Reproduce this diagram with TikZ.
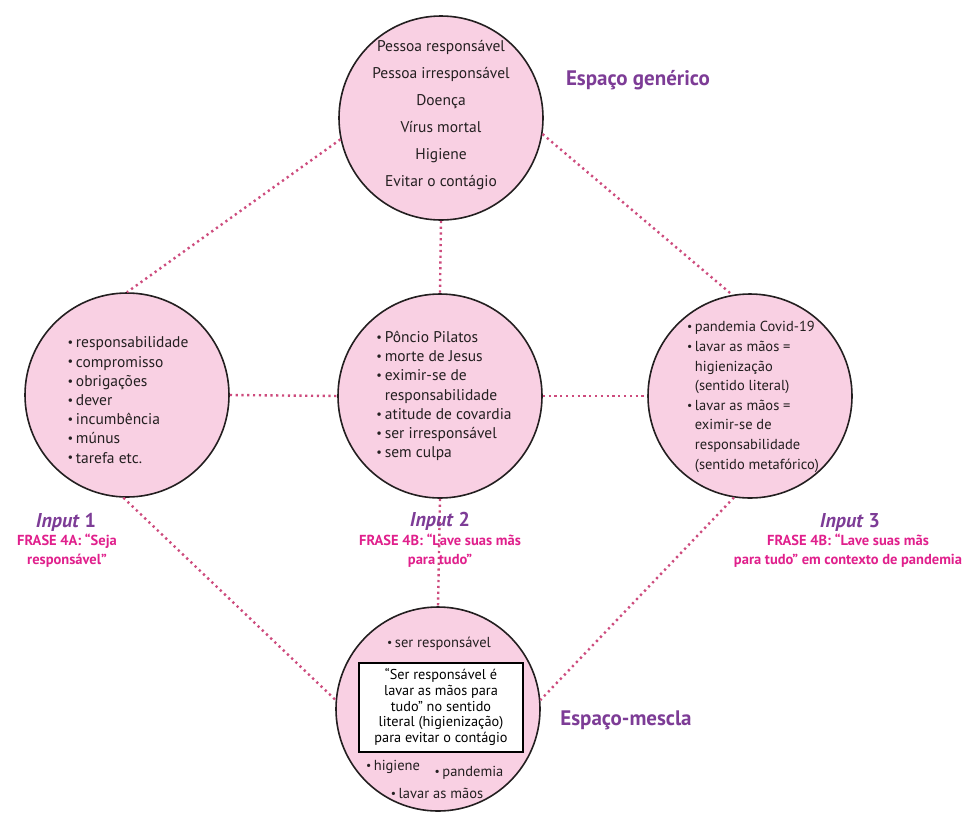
\documentclass[tikz,border=0pt]{standalone}
\usepackage{fontspec}
\usepackage{graphicx}
\setmainfont{PT Sans}
\definecolor{circfill}{RGB}{249,208,227}
\definecolor{circline}{RGB}{35,31,32}
\definecolor{dotcol}{RGB}{205,75,125}
\definecolor{purp}{RGB}{125,60,150}
\definecolor{mag}{RGB}{224,32,140}
\newcommand{\bu}{\raisebox{0.15ex}{\scalebox{0.8}{•}}\hspace{0.18em}}
\begin{document}
\begin{tikzpicture}[x=1pt,y=-1pt,
  circ/.style={circle, draw=circline, fill=circfill, line width=1.6pt, minimum size=204pt, inner sep=0pt},
  link/.style={draw=dotcol, line width=2.4pt, dash pattern=on 2.2pt off 3.6pt},
  txt/.style={inner sep=0pt, text=circline},
  list/.style={txt, align=left, font=\fontsize{15.5}{19.2}\selectfont},
  title/.style={inner sep=0pt, text=purp, font=\fontsize{21}{23}\selectfont\bfseries},
  inlab/.style={inner sep=0pt, text=purp, font=\fontsize{20}{22}\selectfont\bfseries},
  frase/.style={inner sep=0pt, text=mag, align=center, font=\fontsize{14.5}{19}\selectfont\bfseries},
  quotebox/.style={draw=black, line width=2pt, fill=white, minimum width=164pt, minimum height=89pt, inner sep=0pt, align=center, font=\fontsize{14.3}{15.8}\selectfont}
]
\useasboundingbox (0,0) rectangle (963,812);

% circles
\node[circ] (G) at (441,118) {};
\node[circ] (L) at (127,395) {};
\node[circ] (M) at (440,396) {};
\node[circ] (R) at (750,396) {};
\node[circ] (B) at (438,709) {};

% connectors
\draw[link] (G.192) -- (L.90);
\draw[link] (G.351) -- (R.100);
\draw[link] (G.270) -- (M.90);
\draw[link] (L.0) -- (M.180);
\draw[link] (M.0) -- (R.180);
\draw[link] (L.268) -- (B.175);
\draw[link] (M.270) -- (B.90);
\draw[link] (R.261) -- (B.5);

% texts in circles
\node[txt, align=center, font=\fontsize{15.5}{27}\selectfont] (tG) at (441,115)
  {Pessoa responsável\\Pessoa irresponsável\\Doença\\Vírus mortal\\Higiene\\Evitar o contágio};
\node[list] (tL) at (128,400)
  {\bu responsabilidade\\\bu compromisso\\\bu obrigações\\\bu dever\\\bu incumbência\\\bu múnus\\\bu tarefa etc.};
\node[list] (tM) at (444,396)
  {\bu Pôncio Pilatos\\\bu morte de Jesus\\\bu eximir-se de\\\hphantom{\bu}responsabilidade\\\bu atitude de covardia\\\bu ser irresponsável\\\bu sem culpa};
\node[list, font=\fontsize{14.5}{19.6}\selectfont] (tR) at (753,397)
  {\bu pandemia Covid-19\\\bu lavar as mãos =\\\hphantom{\bu}higienização\\\hphantom{\bu}(sentido literal)\\\bu lavar as mãos =\\\hphantom{\bu}eximir-se de\\\hphantom{\bu}responsabilidade\\\hphantom{\bu}(sentido metafórico)};

% bottom circle contents
\node[txt, font=\fontsize{14.5}{16}\selectfont] (b1) at (439,644) {\bu ser responsável};
\node[quotebox] (box) at (441,707)
  {“Ser responsável é\\lavar as mãos para\\tudo” no sentido\\literal (higienização)\\para evitar o contágio};
\node[txt, font=\fontsize{14.5}{16}\selectfont] (b2) at (393,767) {\bu higiene};
\node[txt, font=\fontsize{14.5}{16}\selectfont] (b3) at (469,773) {\bu pandemia};
\node[txt, font=\fontsize{14.5}{16}\selectfont] (b4) at (437,793) {\bu lavar as mãos};

% titles
\node[title] (lg) at (638,80) {Espaço genérico};
\node[title] (lm) at (626,720) {Espaço-mescla};

% input labels
\node[inlab] (i1) at (66,522) {\textit{Input} 1};
\node[frase] (f1) at (67,551) {FRASE 4A: “Seja\\responsável”};
\node[inlab] (i2) at (440,521) {\textit{Input} 2};
\node[frase] (f2) at (440,551) {FRASE 4B: “Lave suas mãs\\para tudo”};
\node[inlab] (i3) at (850,522) {\textit{Input} 3};
\node[frase] (f3) at (848,551) {FRASE 4B: “Lave suas mãs\\para tudo” em contexto de pandemia};
\end{tikzpicture}
\end{document}
